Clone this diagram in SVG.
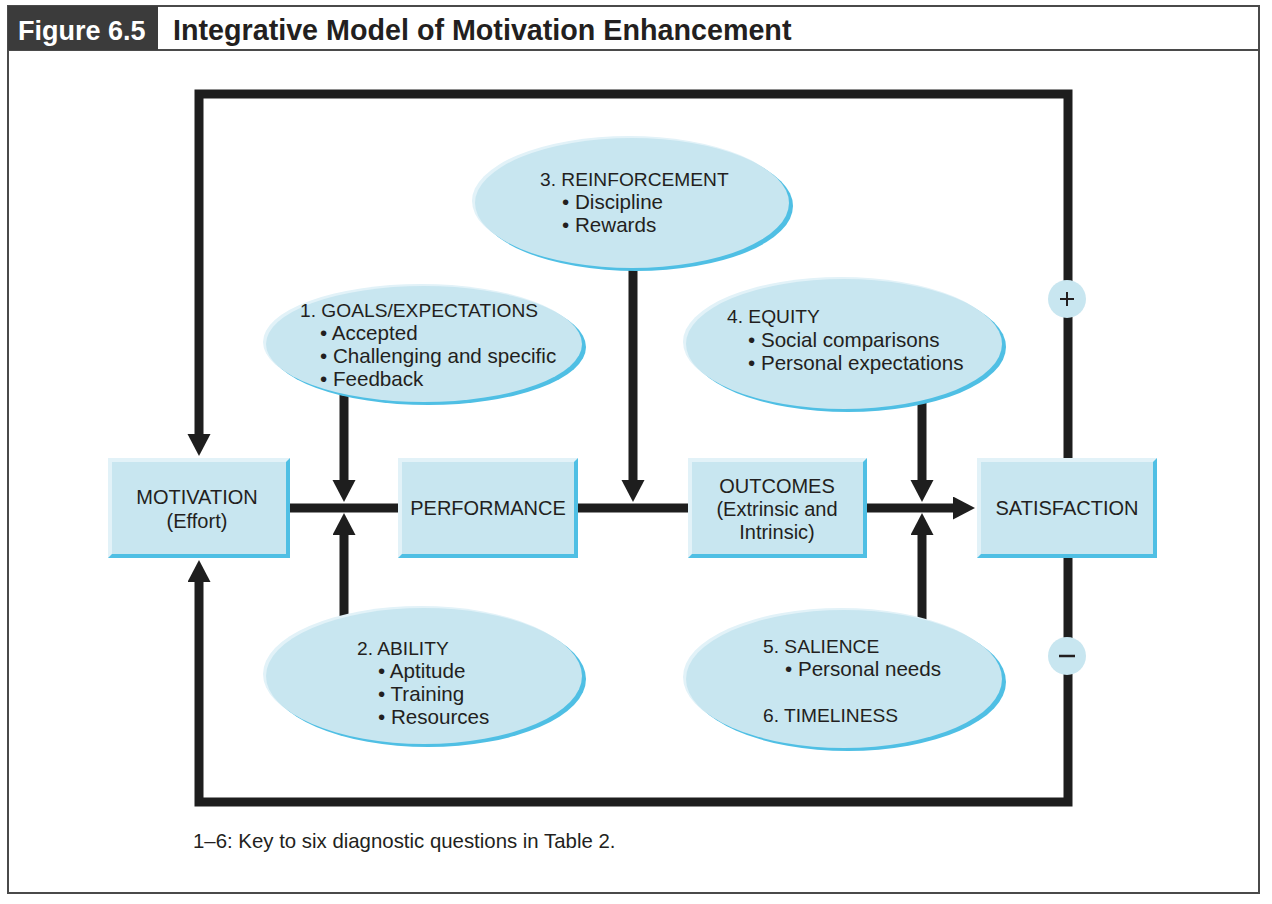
<svg xmlns="http://www.w3.org/2000/svg" width="1272" height="904" viewBox="0 0 1272 904">
<defs>
<style>
.t{font-family:"Liberation Sans",Arial,sans-serif;font-size:20px;fill:#231f20}
.h{font-size:19.2px}
.b{font-size:20.6px}
.c{text-anchor:middle}
.ln{fill:none;stroke:#1e1e1e;stroke-width:9;stroke-linejoin:miter}
.fill{fill:#c8e6f0}
.dark{fill:#4fbfe4}
.light{fill:#e2f2f8}
</style>
<marker id="ah" markerUnits="userSpaceOnUse" markerWidth="24" markerHeight="24" refX="2" refY="11.5" orient="auto">
<path d="M0,0 L22,11.5 L0,23 z" fill="#1e1e1e"/>
</marker>
</defs>
<rect x="0" y="0" width="1272" height="904" fill="#fff"/>
<g id="frame">
<rect x="8" y="6" width="1251" height="887" fill="none" stroke="#4a4a4a" stroke-width="2"/>
<line x1="8" y1="50" x2="1259" y2="50" stroke="#4a4a4a" stroke-width="2"/>
<rect x="8" y="6" width="150" height="44" fill="#3b3b3b"/>
<text x="18" y="40" font-family="Liberation Sans,Arial,sans-serif" font-weight="bold" font-size="27" fill="#fff">Figure 6.5</text>
<text x="173" y="40" font-family="Liberation Sans,Arial,sans-serif" font-weight="bold" font-size="28.7" fill="#231f20">Integrative Model of Motivation Enhancement</text>
</g>
<g id="connectors">
<path class="ln" d="M1068,458 V94 H199 V436" marker-end="url(#ah)"/>
<path class="ln" d="M1068,558 V802 H199 V580" marker-end="url(#ah)"/>
<path class="ln" d="M290,508 H398"/>
<path class="ln" d="M578,508 H688"/>
<path class="ln" d="M867,508 H955" marker-end="url(#ah)"/>
<path class="ln" d="M344,390 V482" marker-end="url(#ah)"/>
<path class="ln" d="M344,625 V533" marker-end="url(#ah)"/>
<path class="ln" d="M633,255 V482" marker-end="url(#ah)"/>
<path class="ln" d="M922,395 V482" marker-end="url(#ah)"/>
<path class="ln" d="M922,625 V533" marker-end="url(#ah)"/>
<g id="plus">
<circle cx="1067" cy="299" r="19" class="fill"/>
<path d="M1060,299 H1074 M1067,292 V306" stroke="#231f20" stroke-width="2"/>
</g>
<g id="minus">
<circle cx="1067" cy="656" r="19" class="fill"/>
<path d="M1059,656 H1075" stroke="#231f20" stroke-width="2.5"/>
</g>
</g>
<g id="goals">
<ellipse cx="421" cy="342" rx="158" ry="58" class="light"/>
<ellipse cx="428" cy="347" rx="158" ry="58" class="dark"/>
<ellipse cx="424" cy="344" rx="158" ry="58" class="fill"/>
<text class="t h" x="300" y="317">1. GOALS/EXPECTATIONS</text>
<text class="t b" x="320" y="340">• Accepted</text>
<text class="t b" x="320" y="363">• Challenging and specific</text>
<text class="t b" x="320" y="386">• Feedback</text>
</g>
<g id="reinforcement">
<ellipse cx="629" cy="201" rx="157" ry="65" class="light"/>
<ellipse cx="636" cy="206" rx="157" ry="65" class="dark"/>
<ellipse cx="632" cy="203" rx="157" ry="65" class="fill"/>
<text class="t h" x="540" y="186">3. REINFORCEMENT</text>
<text class="t b" x="562" y="209">• Discipline</text>
<text class="t b" x="562" y="232">• Rewards</text>
</g>
<g id="equity">
<ellipse cx="841" cy="342" rx="158" ry="65" class="light"/>
<ellipse cx="848" cy="347" rx="158" ry="65" class="dark"/>
<ellipse cx="844" cy="344" rx="158" ry="65" class="fill"/>
<text class="t h" x="727" y="323">4. EQUITY</text>
<text class="t b" x="748" y="347">• Social comparisons</text>
<text class="t b" x="748" y="370">• Personal expectations</text>
</g>
<g id="ability">
<ellipse cx="421" cy="674" rx="158" ry="68" class="light"/>
<ellipse cx="428" cy="679" rx="158" ry="68" class="dark"/>
<ellipse cx="424" cy="676" rx="158" ry="68" class="fill"/>
<text class="t h" x="357" y="655">2. ABILITY</text>
<text class="t b" x="378" y="678">• Aptitude</text>
<text class="t b" x="378" y="701">• Training</text>
<text class="t b" x="378" y="724">• Resources</text>
</g>
<g id="salience">
<ellipse cx="841" cy="677" rx="158" ry="69" class="light"/>
<ellipse cx="848" cy="682" rx="158" ry="69" class="dark"/>
<ellipse cx="844" cy="679" rx="158" ry="69" class="fill"/>
<text class="t h" x="763" y="653">5. SALIENCE</text>
<text class="t b" x="785" y="676">• Personal needs</text>
<text class="t h" x="763" y="722">6. TIMELINESS</text>
</g>
<g id="motivation">
<rect x="108" y="458" width="182" height="100" class="dark"/>
<polygon points="108,458 290,458 286,462 112,462 112,554 108,558" class="light"/>
<rect x="112" y="462" width="174" height="92" class="fill"/>
<text class="t c" x="197" y="504">MOTIVATION</text>
<text class="t c" x="197" y="528">(Effort)</text>
</g>
<g id="performance">
<rect x="398" y="458" width="180" height="100" class="dark"/>
<polygon points="398,458 578,458 574,462 402,462 402,554 398,558" class="light"/>
<rect x="402" y="462" width="172" height="92" class="fill"/>
<text class="t c" x="488" y="515">PERFORMANCE</text>
</g>
<g id="outcomes">
<rect x="688" y="458" width="179" height="100" class="dark"/>
<polygon points="688,458 867,458 863,462 692,462 692,554 688,558" class="light"/>
<rect x="692" y="462" width="171" height="92" class="fill"/>
<text class="t c" x="777" y="493">OUTCOMES</text>
<text class="t c" x="777" y="516">(Extrinsic and</text>
<text class="t c" x="777" y="539">Intrinsic)</text>
</g>
<g id="satisfaction">
<rect x="977" y="458" width="180" height="100" class="dark"/>
<polygon points="977,458 1157,458 1153,462 981,462 981,554 977,558" class="light"/>
<rect x="981" y="462" width="172" height="92" class="fill"/>
<text class="t c" x="1067" y="515">SATISFACTION</text>
</g>
<g id="footnote">
<text class="t" x="193" y="848" style="font-size:20.4px">1–6: Key to six diagnostic questions in Table 2.</text>
</g>
</svg>
